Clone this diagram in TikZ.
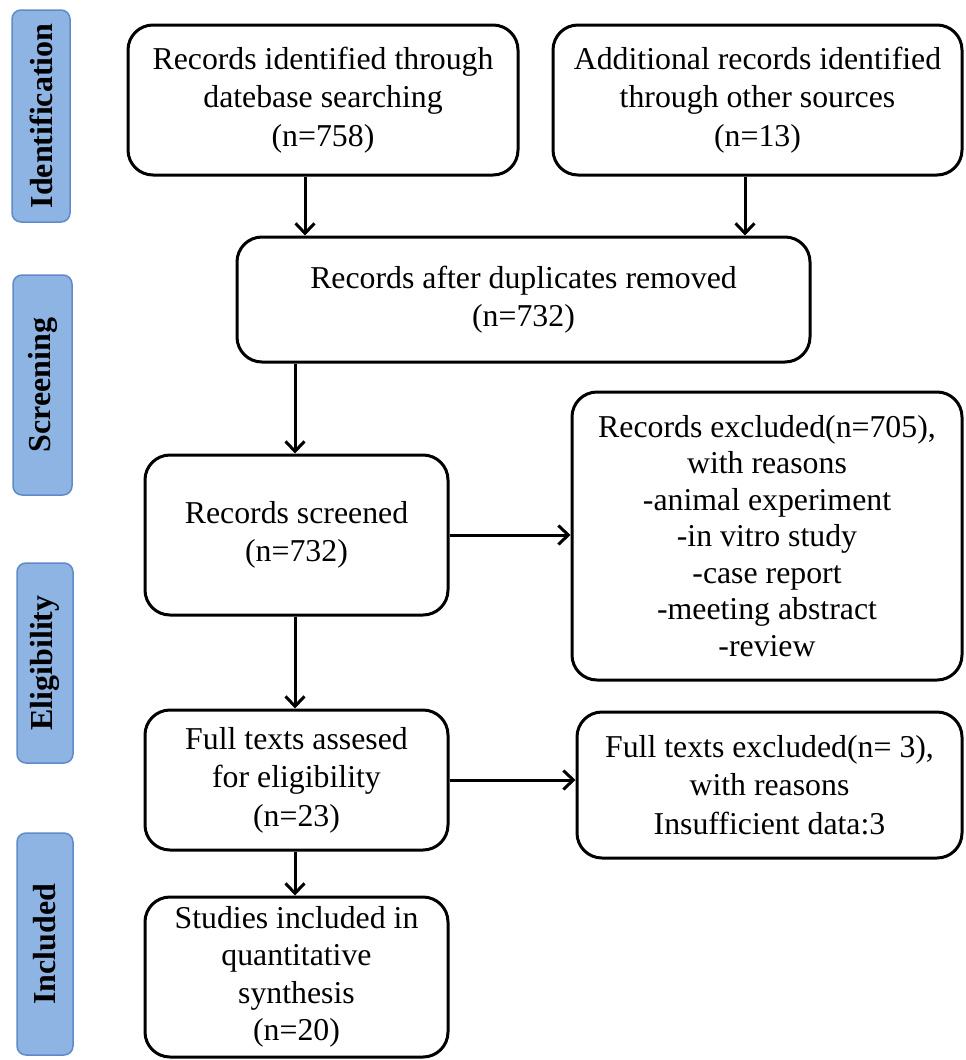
\documentclass[tikz,border=0pt]{standalone}
\usepackage{fontspec}
\setmainfont{Liberation Serif}
\usetikzlibrary{arrows.meta}
\definecolor{sidefill}{RGB}{142,180,227}
\definecolor{sidedraw}{RGB}{96,138,200}
\tikzset{
  mainbox/.style={draw=black, line width=3pt, rounded corners=25pt, inner sep=0pt, align=center,
    font=\fontsize{31.8}{38.5}\selectfont},
  sidebox/.style={draw=sidedraw, fill=sidefill, line width=1.5pt, rounded corners=9pt, inner sep=0pt},
  sidetext/.style={rotate=90, font=\fontsize{32}{36}\selectfont\bfseries},
  arr/.style={line width=3pt, -{Straight Barb[length=10pt,width=19pt]}},
}
\begin{document}
\begin{tikzpicture}[x=1pt,y=-1pt]
\useasboundingbox (0,0) rectangle (966,1060);
% side labels
\node[sidebox, minimum width=58pt, minimum height=212pt] (sid) at (41,116) {};
\node[sidetext] (tid) at (sid.center) {Identification};
\node[sidebox, minimum width=59pt, minimum height=220pt] (ssc) at (42.5,385) {};
\node[sidetext] (tsc) at (ssc.center) {Screening};
\node[sidebox, minimum width=56pt, minimum height=200pt] (sel) at (45,663) {};
\node[sidetext] (tel) at (sel.center) {Eligibility};
\node[sidebox, minimum width=56pt, minimum height=222pt] (sin) at (45,944) {};
\node[sidetext] (tin) at (sin.center) {Included};
% main boxes
\node[mainbox, minimum width=390pt, minimum height=150pt] (b1) at (323,100)
  {Records identified through\\ datebase searching\\ (n=758)};
\node[mainbox, minimum width=409pt, minimum height=150pt] (b2) at (757.5,100)
  {Additional records identified\\ through other sources\\ (n=13)};
\node[mainbox, minimum width=573pt, minimum height=125pt] (b3) at (523.5,299.5)
  {Records after duplicates removed\\ (n=732)};
\node[mainbox, minimum width=303pt, minimum height=160pt] (b4) at (296.5,535)
  {Records screened\\ (n=732)};
\node[mainbox, minimum width=390pt, minimum height=288pt, font=\fontsize{31.8}{36.5}\selectfont] (b5) at (767,536)
  {Records excluded(n=705),\\ with reasons\\ -animal experiment\\ -in vitro study\\ -case report\\ -meeting abstract\\ -review};
\node[mainbox, minimum width=303pt, minimum height=140pt] (b6) at (296.5,780)
  {Full texts assesed\\ for eligibility\\ (n=23)};
\node[mainbox, minimum width=385pt, minimum height=146pt] (b7) at (769.5,785)
  {Full texts excluded(n= 3),\\ with reasons\\ Insufficient data:3};
\node[mainbox, minimum width=303pt, minimum height=160pt, font=\fontsize{31.8}{37.5}\selectfont] (b8) at (296.5,977)
  {Studies included in\\ quantitative\\ synthesis\\ (n=20)};
% connectors
\coordinate (xa) at (305,0);
\coordinate (xb) at (745,0);
\coordinate (xc) at (295,0);
\draw[arr] (b1.south -| xa) -- (b3.north -| xa);
\draw[arr] (b2.south -| xb) -- (b3.north -| xb);
\draw[arr] (b3.south -| xc) -- (b4.north -| xc);
\draw[arr] (b4.east) -- (b5.west |- b4.east);
\draw[arr] (b4.south -| xc) -- (b6.north -| xc);
\draw[arr] (b6.east) -- (b7.west |- b6.east);
\draw[arr] (b6.south -| xc) -- (b8.north -| xc);
\end{tikzpicture}
\end{document}
